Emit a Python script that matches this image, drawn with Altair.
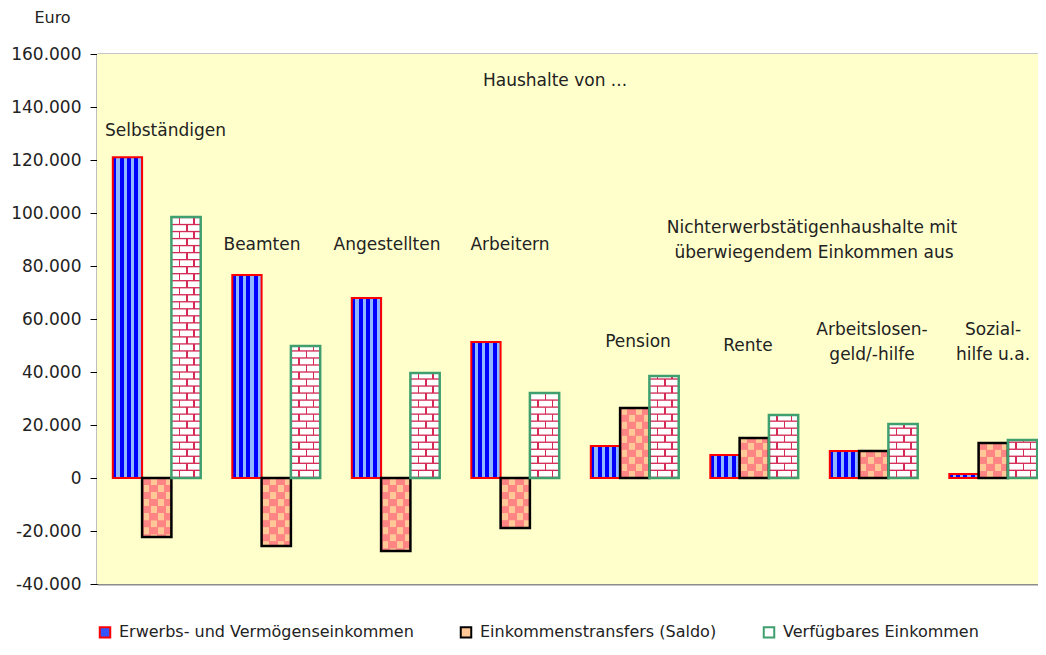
import altair as alt
import pandas as pd

# ---------------- data ----------------
groups = ["Selbständigen", "Beamten", "Angestellten", "Arbeitern",
          "Pension", "Rente", "Arbeitslosengeld/-hilfe", "Sozialhilfe u.a."]
series = ["Erwerbs- und Vermögenseinkommen", "Einkommenstransfers (Saldo)",
          "Verfügbares Einkommen"]
codes = ["E", "T", "V"]
erwerb = [121000, 76600, 67900, 51300, 12100, 8700, 10200, 1500]
transfer = [-22300, -25700, -27500, -18900, 26400, 15100, 10200, 13200]
verfuegbar = [98500, 49800, 39600, 32100, 38500, 23800, 20400, 14300]
y_ticks = [-40000, -20000, 0, 20000, 40000, 60000, 80000, 100000, 120000, 140000, 160000]

ann_text = ["Haushalte von ...", "Beamten", "Angestellten", "Arbeitern",
            "Nichterwerbstätigenhaushalte  mit", "überwiegendem Einkommen aus",
            "Pension", "Rente", "Arbeitslosen-", "geld/-hilfe", "Sozial-", "hilfe u.a."]
ann_x = [458, 165, 290, 413, 715, 717, 541, 651, 775, 775, 896, 896]
ann_y = [150000, 88000, 88000, 88000, 94300, 84900, 51300, 49800, 55800, 46400, 55800, 46400]
left_text = ["Selbständigen"]
left_x = [8]
left_y = [131000]

rows = []
for i, g in enumerate(groups):
    for s, c, vals in zip(series, codes, [erwerb, transfer, verfuegbar]):
        rows.append({"group": g, "gi": i, "series": s, "code": c, "value": vals[i]})
df = pd.DataFrame(rows)
ann_df = pd.DataFrame({"text": ann_text, "px": ann_x, "ypos": ann_y})
left_df = pd.DataFrame({"text": left_text, "px": left_x, "ypos": left_y})

# ---------------- styles / layout ----------------
FONT = "DejaVu Sans"
TXT = "#222222"
BLUE, LBLUE = "#0000FF", "#8FB6FF"
SALMON, PEACH = "#FF8585", "#FFC896"
CRIMSON = "#D42A55"
RED, BLACK, GREEN = "#FF0000", "#000000", "#3F9F6F"
PLOT_BG = "#FFFFCC"
ROW = 2650
W, H = 941, 530
STEP = 119.5                 # pixels per group
BAR_W = 29.3 / STEP          # bar width in group units
FIRST = 15.8 / STEP          # gap before first bar of a group


def hard(bands):
    stops = []
    for a, b, col in bands:
        stops.append(alt.GradientStop(offset=a, color=col))
        stops.append(alt.GradientStop(offset=b, color=col))
    return alt.LinearGradient(gradient="linear", stops=stops, x1=0, x2=1, y1=0, y2=0)


grad_e = hard([(0, .12, BLUE), (.12, .23, LBLUE), (.23, .37, BLUE), (.37, .48, LBLUE),
               (.48, .62, BLUE), (.62, .73, LBLUE), (.73, .87, BLUE), (.87, .97, LBLUE),
               (.97, 1, BLUE)])
grad_ta = hard([(0, .3, SALMON), (.3, .5, PEACH), (.5, .8, SALMON), (.8, 1, PEACH)])
grad_tb = hard([(0, .05, SALMON), (.05, .25, PEACH), (.25, .55, SALMON), (.55, .75, PEACH),
                (.75, 1, SALMON)])
grad_va = hard([(0, .25, "#FFFFFF"), (.25, .3, CRIMSON), (.3, .75, "#FFFFFF"),
                (.75, .8, CRIMSON), (.8, 1, "#FFFFFF")])
grad_vb = hard([(0, .5, "#FFFFFF"), (.5, .55, CRIMSON), (.55, 1, "#FFFFFF")])

grid_test = "datum.value === 0 || datum.value === 160000 || datum.value === -40000"
y_axis = alt.Axis(
    title="Euro", titleAngle=0, titleX=-45, titleY=-37, titleAlign="center",
    titleBaseline="middle", titleFont=FONT, titleFontSize=16, titleFontWeight="normal",
    titleColor=TXT,
    values=y_ticks,
    labelExpr="(datum.value < 0 ? '-' : '') + replace(format(abs(datum.value), ','), ',', '.')",
    labelFont=FONT, labelFontSize=17, labelColor=TXT, labelPadding=9,
    tickSize=7, tickColor=BLACK, tickWidth=1,
    domainColor=BLACK, domainWidth=1.5,
    grid=True,
    gridColor={"condition": {"test": grid_test, "value": "#8c8c8c"}, "value": "#3a3a3a"},
    gridWidth={"condition": {"test": grid_test, "value": 2}, "value": 1},
)
y_scale = alt.Scale(domain=[-40000, 160000], nice=False, zero=False)
x_scale = alt.Scale(domain=[0, W / STEP], nice=False, zero=False)

base = alt.Chart(df).transform_calculate(
    k="indexof(['E', 'T', 'V'], datum.code)",
).transform_calculate(
    x0=f"datum.gi + {FIRST} + datum.k * {BAR_W}",
    x1=f"datum.gi + {FIRST} + (datum.k + 1) * {BAR_W}",
    zero="0",
)

bg = alt.Chart(pd.DataFrame({"k": [0]})).mark_rect(fill=PLOT_BG, strokeWidth=0).encode(
    x=alt.value(0), x2=alt.value(W), y=alt.value(0), y2=alt.value(H))

X0 = alt.X("x0:Q", scale=x_scale, axis=None)


def bars(code, fill):
    return base.transform_filter(f"datum.code == '{code}'").mark_rect(
        fill=fill, strokeWidth=0).encode(
        x=X0, x2="x1:Q",
        y=alt.Y("value:Q", scale=y_scale, axis=y_axis), y2="zero:Q")


def outline(code, col, w):
    return base.transform_filter(f"datum.code == '{code}'").mark_rect(
        fillOpacity=0, stroke=col, strokeWidth=w).encode(
        x=X0, x2="x1:Q",
        y=alt.Y("value:Q", scale=y_scale, axis=y_axis), y2="zero:Q")


def row_layer(code, gap, parity, fill):
    return (base.transform_filter(f"datum.code == '{code}'")
            .transform_calculate(step=f"datum.value < 0 ? -{ROW} : {ROW}")
            .transform_calculate(lines="sequence(0, datum.value, datum.step)")
            .transform_flatten(["lines"])
            .transform_calculate(
                y0=f"datum.lines + (datum.value < 0 ? -{gap} : {gap})",
                y1="datum.value < 0 ? max(datum.lines + datum.step, datum.value) : min(datum.lines + datum.step, datum.value)",
                par=f"floor(abs(datum.lines) / {ROW} + 0.5) % 2")
            .transform_filter(f"datum.par == {parity} && abs(datum.y1) > abs(datum.y0)")
            .mark_rect(fill=fill, strokeWidth=0)
            .encode(x=X0, x2="x1:Q",
                    y=alt.Y("y0:Q", scale=y_scale, axis=y_axis), y2="y1:Q"))


text_center = alt.Chart(ann_df).mark_text(
    font=FONT, fontSize=17, color=TXT, align="center", baseline="middle").encode(
    x=alt.X("px:Q", scale=None), y=alt.Y("ypos:Q", scale=y_scale, axis=y_axis), text="text:N")
text_left = alt.Chart(left_df).mark_text(
    font=FONT, fontSize=17, color=TXT, align="left", baseline="middle").encode(
    x=alt.X("px:Q", scale=None), y=alt.Y("ypos:Q", scale=y_scale, axis=y_axis), text="text:N")

legend = alt.Legend(title=None, orient="none", legendX=0, legendY=570, direction="horizontal",
                    symbolType="square", symbolSize=110, symbolStrokeWidth=2,
                    labelFont=FONT, labelFontSize=16, labelColor=TXT, labelOffset=6,
                    columnPadding=42, padding=0, labelLimit=400)
legend_layer = alt.Chart(df).transform_filter("false").mark_square(
    size=110, filled=True, strokeWidth=2, opacity=1).encode(
    fill=alt.Fill("series:N", scale=alt.Scale(domain=series, range=["#3355FF", PEACH, "#FFFFFF"]),
                  legend=legend),
    stroke=alt.Stroke("series:N", scale=alt.Scale(domain=series, range=[RED, BLACK, GREEN]),
                      legend=legend))

chart = alt.layer(
    bg,
    bars("E", grad_e), bars("T", SALMON), bars("V", CRIMSON),
    row_layer("T", 0, 0, grad_ta), row_layer("T", 0, 1, grad_tb),
    row_layer("V", 500, 0, grad_va), row_layer("V", 500, 1, grad_vb),
    outline("E", RED, 2), outline("T", BLACK, 2.5), outline("V", GREEN, 2.5),
    text_center, text_left, legend_layer,
).properties(
    width=W, height=H,
    autosize=alt.AutoSizeParams(type="none"),
    padding={"left": 89, "top": 46, "right": 0, "bottom": 63},
    background="#FFFFFF",
).configure_view(strokeWidth=0)

chart.save("out.html", embed_options={"renderer": "svg", "actions": False})
